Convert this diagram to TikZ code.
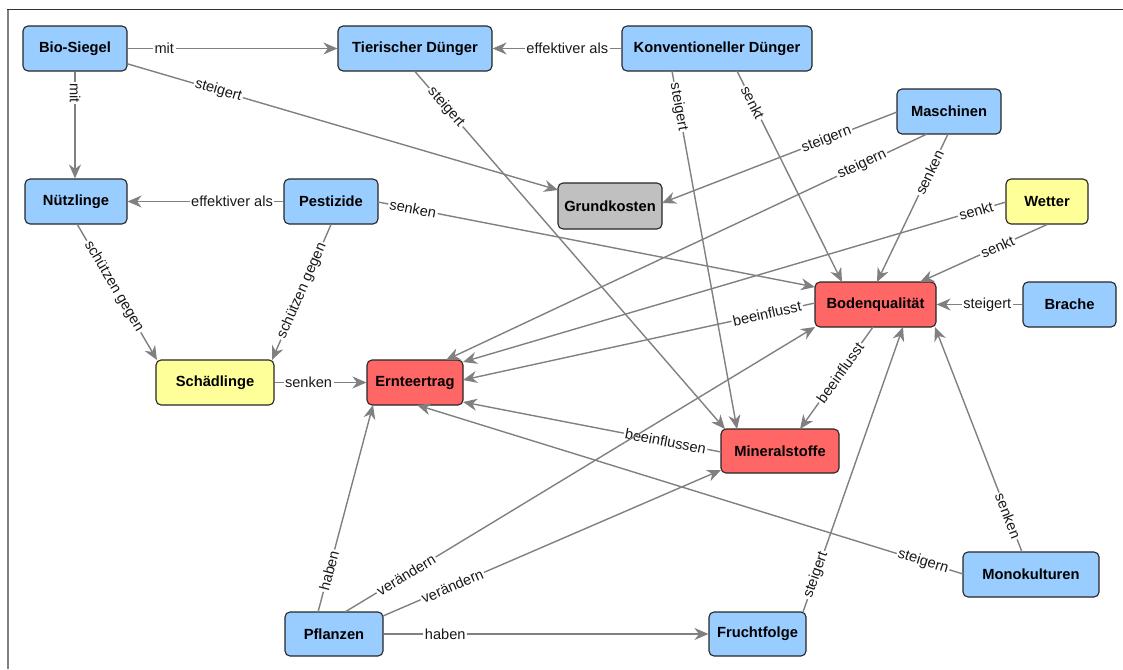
\documentclass[tikz,border=0pt]{standalone}
\usepackage{fontspec}
\setmainfont{Liberation Sans}
\usetikzlibrary{arrows.meta}
\definecolor{cblue}{HTML}{99CCFF}
\definecolor{cyellow}{HTML}{FFFF99}
\definecolor{cred}{HTML}{FF6666}
\definecolor{cgray}{HTML}{C0C0C0}
\definecolor{edgegray}{HTML}{808080}
\tikzset{
  box/.style={draw=black!85, line width=1.1pt, rounded corners=5pt, inner sep=0pt,
    minimum height=45pt, font=\fontsize{14.7}{17}\selectfont\bfseries, text=black},
  bluebox/.style={box, fill=cblue},
  yellowbox/.style={box, fill=cyellow},
  redbox/.style={box, fill=cred},
  graybox/.style={box, fill=cgray},
  conn/.style={draw=edgegray, line width=1.4pt, -{Stealth[length=14pt,width=12pt,inset=4.5pt]}},
  lbl/.style={fill=white, inner sep=1.5pt, sloped, font=\fontsize{14.6}{17}\selectfont, text=black!90}
}
\begin{document}
\begin{tikzpicture}[x=1pt,y=1pt]
\useasboundingbox (0,0) rectangle (1123,-669);
\draw[black!80, line width=1pt] (7,-10) -- (1123,-10);
\draw[edgegray, line width=2pt] (8,-10) -- (8,-669);

\node[bluebox, minimum width=104pt] (bio) at (75,-48.5) {Bio-Siegel};
\node[bluebox, minimum width=154pt] (tier) at (415,-48.5) {Tierischer Dünger};
\node[bluebox, minimum width=190pt] (konv) at (717,-48.5) {Konventioneller Dünger};
\node[bluebox, minimum width=104pt] (masch) at (949,-111.5) {Maschinen};
\node[bluebox, minimum width=102pt] (nuetz) at (76,-201.5) {Nützlinge};
\node[bluebox, minimum width=94pt] (pest) at (331,-201.5) {Pestizide};
\node[graybox, minimum width=104pt, minimum height=46pt] (grund) at (610,-206) {Grundkosten};
\node[yellowbox, minimum width=82pt] (wetter) at (1047,-201.5) {Wetter};
\node[redbox, minimum width=121pt] (boden) at (875.5,-304.5) {Bodenqualität};
\node[bluebox, minimum width=93pt] (brache) at (1069.5,-304.5) {Brache};
\node[yellowbox, minimum width=118pt] (schaed) at (215,-382.5) {Schädlinge};
\node[redbox, minimum width=96pt] (ernte) at (415,-382.5) {Ernteertrag};
\node[redbox, minimum width=118pt, minimum height=44pt] (mineral) at (780,-451) {Mineralstoffe};
\node[bluebox, minimum width=136pt] (mono) at (1031,-574.5) {Monokulturen};
\node[bluebox, minimum width=98pt, minimum height=44pt] (pflanz) at (334,-634) {Pflanzen};
\node[bluebox, minimum width=97pt, minimum height=44pt] (frucht) at (757.5,-634) {Fruchtfolge};

% edges
\draw[conn] (bio.east) -- node[lbl, pos=0.175] {mit} (tier.west);
\draw[conn] (bio.south) -- node[lbl, pos=0.2] {mit} (bio.south |- nuetz.north);
\draw[conn] ([shift={(53,-15.5)}]bio.center) -- node[lbl, pos=0.21] {steigert} ([shift={(-52,16)}]grund.center);
\draw[conn] (konv.west) -- node[lbl, pos=0.42] {effektiver als} (tier.east);
\draw[conn] (tier.south) -- node[lbl, pos=0.1] {steigert} ([shift={(-55,22)}]mineral.center);
\draw[conn] ([shift={(-45,-22.5)}]konv.center) -- node[lbl, pos=0.1] {steigert} ([shift={(-43,22)}]mineral.center);
\draw[conn] ([shift={(20,-22.5)}]konv.center) -- node[lbl, pos=0.15] {senkt} ([shift={(-33.5,22.5)}]boden.center);
\draw[conn] ([shift={(-52,-0.5)}]masch.center) -- node[lbl, pos=0.3] {steigern} ([shift={(52,3)}]grund.center);
\draw[conn] ([shift={(-22,-22.5)}]masch.center) -- node[lbl, pos=0.135] {steigern} ([shift={(31,22.5)}]ernte.center);
\draw[conn] ([shift={(-1,-22.5)}]masch.center) -- node[lbl, pos=0.26] {senken} ([shift={(1.5,22.5)}]boden.center);
\draw[conn] (pest.west) -- node[lbl, pos=0.33] {effektiver als} (nuetz.east);
\draw[conn] ([shift={(47,-0.5)}]pest.center) -- node[lbl, pos=0.08] {senken} ([shift={(-60.5,17.5)}]boden.center);
\draw[conn] (pest.south) -- node[lbl, pos=0.49] {schützen gegen} ([shift={(57,22.5)}]schaed.center);
\draw[conn] ([shift={(1,-22.5)}]nuetz.center) -- node[lbl, pos=0.46] {schützen gegen} ([shift={(-58,22.5)}]schaed.center);
\draw[conn] ([shift={(-41,-0.5)}]wetter.center) -- node[lbl, pos=0.055] {senkt} ([shift={(48,20.5)}]ernte.center);
\draw[conn] (wetter.south) -- node[lbl, pos=0.39] {senkt} ([shift={(44.5,22.5)}]boden.center);
\draw[conn] (brache.west) -- node[lbl, pos=0.41] {steigert} (boden.east);
\draw[conn] (schaed.east) -- node[lbl, pos=0.37] {senken} (ernte.west);
\draw[conn] ([shift={(-60.5,1.5)}]boden.center) -- node[lbl, pos=0.136] {beeinflusst} ([shift={(48,2.5)}]ernte.center);
\draw[conn] ([shift={(-2.5,-22.5)}]boden.center) -- node[lbl, pos=0.45] {beeinflusst} ([shift={(20,22)}]mineral.center);
\draw[conn] ([shift={(-59,-1)}]mineral.center) -- node[lbl, pos=0.215] {beeinflussen} ([shift={(48,-19.5)}]ernte.center);
\draw[conn] ([shift={(-68,0.5)}]mono.center) -- node[lbl, pos=0.073] {steigern} ([shift={(2,-22.5)}]ernte.center);
\draw[conn] ([shift={(-9,22.5)}]mono.center) -- node[lbl, pos=0.16] {senken} ([shift={(59.5,-22.5)}]boden.center);
\draw[conn] ([shift={(-16,22)}]pflanz.center) -- node[lbl, pos=0.2] {haben} ([shift={(-42,-22.5)}]ernte.center);
\draw[conn] ([shift={(11,22)}]pflanz.center) -- node[lbl, pos=0.13] {verändern} ([shift={(-60.5,-22.5)}]boden.center);
\draw[conn] ([shift={(49,18)}]pflanz.center) -- node[lbl, pos=0.205] {verändern} ([shift={(-59,-19)}]mineral.center);
\draw[conn] (pflanz.east) -- node[lbl, pos=0.19] {haben} (frucht.west);
\draw[conn] ([shift={(45.5,22)}]frucht.center) -- node[lbl, pos=0.13] {steigert} ([shift={(27.5,-22.5)}]boden.center);
\end{tikzpicture}
\end{document}
